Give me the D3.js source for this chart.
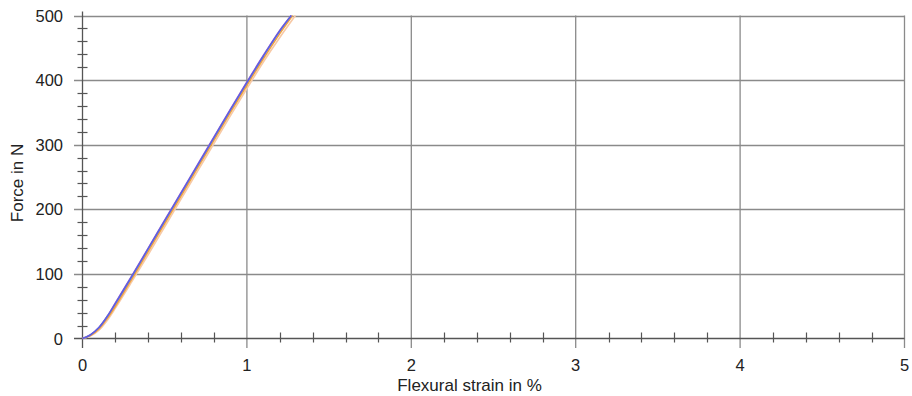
<!DOCTYPE html>
<html><head><meta charset="utf-8">
<script src="https://cdn.jsdelivr.net/npm/d3@7/dist/d3.min.js"></script>
<style>body{margin:0;background:#fff}svg{display:block}text{font-family:"Liberation Sans",Arial,sans-serif;fill:#222}</style>
</head><body><svg id="c" width="912" height="396"></svg>
<script>
const xTicks = [0, 1, 2, 3, 4, 5];
const yTicks = [0, 100, 200, 300, 400, 500];
const xLabel = "Flexural strain in %";
const yLabel = "Force in N";
const seriesColors = ["#f7c9a6", "#f0a43a", "#a05ad0", "#5a64e0"];
const strainA = [0, 0.02, 0.05, 0.1, 0.15, 0.2, 0.3, 0.4, 0.5, 0.6, 0.7, 0.8, 0.9, 1.0, 1.1, 1.2, 1.27];
const forceA  = [0, 2, 6, 17, 34, 54, 96, 139, 182, 225, 268, 311, 354, 396, 437, 476, 500];
const strainB = [0, 0.02, 0.05, 0.1, 0.15, 0.2, 0.3, 0.4, 0.5, 0.6, 0.7, 0.8, 0.9, 1.0, 1.1, 1.2, 1.278];
const forceB  = [0, 2, 5, 15, 31, 50, 92, 135, 178, 221, 264, 307, 350, 392, 433, 472, 500];
const strainC = [0, 0.02, 0.05, 0.1, 0.15, 0.2, 0.3, 0.4, 0.5, 0.6, 0.7, 0.8, 0.9, 1.0, 1.1, 1.2, 1.27];
const forceC  = [0, 2, 6, 17, 34, 55, 97, 140, 183, 226, 269, 312, 355, 397, 438, 477, 500];
const strainD = [0, 0.02, 0.05, 0.1, 0.15, 0.2, 0.3, 0.4, 0.5, 0.6, 0.7, 0.8, 0.9, 1.0, 1.1, 1.2, 1.295];
const forceD  = [0, 1, 4, 13, 28, 47, 88, 130, 173, 216, 259, 302, 345, 387, 428, 466, 500];

const series = [
  {x: strainD, y: forceD},
  {x: strainB, y: forceB},
  {x: strainC, y: forceC},
  {x: strainA, y: forceA}
];

const svg = d3.select("#c");
const x = d3.scaleLinear().domain([0, 5]).range([82.5, 904.5]);
const y = d3.scaleLinear().domain([0, 500]).range([338.5, 15.5]);
const gridColor = "#8a8a8a";
const axisColor = "#555";

const xMinor = d3.range(0, 5.0001, 0.2).filter(v => Math.abs(v - Math.round(v)) > 1e-6);
const yMinor = d3.range(0, 500.001, 20).filter(v => v % 100 !== 0);

svg.append("g").selectAll("line").data(yTicks.filter(d => d > 0)).join("line")
  .attr("x1", 74).attr("x2", x(5)).attr("y1", d => Math.round(y(d)) + 0.5).attr("y2", d => Math.round(y(d)) + 0.5)
  .attr("stroke", gridColor).attr("stroke-width", 1.3);
svg.append("g").selectAll("line").data(xTicks.filter(d => d > 0)).join("line")
  .attr("x1", d => x(d)).attr("x2", d => x(d)).attr("y1", y(500)).attr("y2", 348)
  .attr("stroke", gridColor).attr("stroke-width", 1.3);

svg.append("line").attr("x1", x(0)).attr("x2", x(0)).attr("y1", y(500)-4).attr("y2", 348)
  .attr("stroke", axisColor).attr("stroke-width", 1.3);
svg.append("line").attr("x1", 74).attr("x2", x(5)).attr("y1", y(0)).attr("y2", y(0))
  .attr("stroke", axisColor).attr("stroke-width", 1.3);

svg.append("g").selectAll("line").data(yMinor).join("line")
  .attr("x1", x(0) - 5).attr("x2", x(0) + 5).attr("y1", d => Math.round(y(d)) + 0.5).attr("y2", d => Math.round(y(d)) + 0.5)
  .attr("stroke", axisColor).attr("stroke-width", 1.2);
svg.append("g").selectAll("line").data(xMinor).join("line")
  .attr("x1", d => Math.round(x(d)) + 0.5).attr("x2", d => Math.round(x(d)) + 0.5).attr("y1", y(0) - 6).attr("y2", y(0) + 4)
  .attr("stroke", axisColor).attr("stroke-width", 1.2);

svg.append("g").selectAll("text").data(yTicks).join("text")
  .attr("x", 63).attr("y", d => y(d) + 6).attr("text-anchor", "end")
  .attr("font-size", 16.5).text(d => d);
svg.append("g").selectAll("text").data(xTicks).join("text")
  .attr("x", d => x(d)).attr("y", 370.5).attr("text-anchor", "middle")
  .attr("font-size", 16.5).text(d => d);

svg.append("text").attr("x", 469.5).attr("y", 391).attr("text-anchor", "middle")
  .attr("font-size", 17).text(xLabel);
svg.append("text").attr("transform", "translate(23,183) rotate(-90)").attr("text-anchor", "middle")
  .attr("font-size", 17).text(yLabel);

const line = d3.line().x(d => x(d[0])).y(d => y(d[1])).curve(d3.curveCatmullRom);
svg.append("g").selectAll("path").data(series).join("path")
  .attr("d", s => line(s.x.map((v, i) => [v, s.y[i]])))
  .attr("fill", "none").attr("stroke", (s, i) => seriesColors[i]).attr("stroke-width", 1.6);
</script></body></html>
